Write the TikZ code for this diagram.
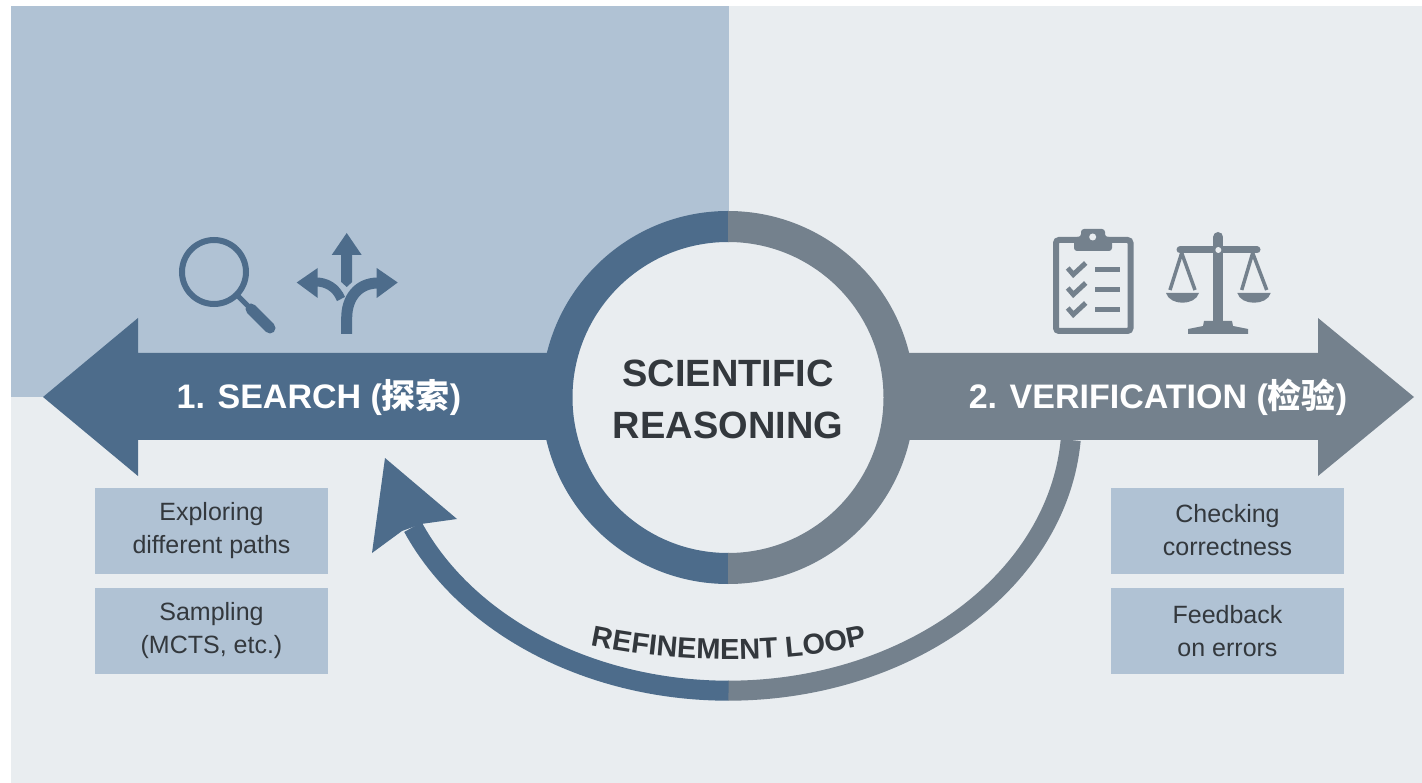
\documentclass[tikz,border=0pt]{standalone}
\usepackage{fontspec}
\setmainfont{Liberation Sans}
\newfontfamily\cjk{Noto Sans CJK SC}
\usetikzlibrary{decorations.text}
\definecolor{paper}{HTML}{E9EDF0}
\definecolor{pale}{HTML}{B0C2D4}
\definecolor{sblue}{HTML}{4D6C8B}
\definecolor{sgrey}{HTML}{74818D}
\definecolor{ink}{HTML}{33383D}
\tikzset{
  x=1pt,y=-1pt,
  notebox/.style={fill=pale,draw=none,minimum width=233pt,minimum height=86pt,inner sep=0pt,align=center,text=ink,font=\fontsize{25}{33}\selectfont},
  bartext/.style={text=white,inner sep=0pt,font=\bfseries\fontsize{34}{40}\selectfont},
  blueicon/.style={draw=sblue,line width=6pt},
  greyicon/.style={draw=sgrey,line width=5pt}
}
\begin{document}
\begin{tikzpicture}
\path[use as bounding box,fill=white] (0,0) rectangle (1422,783);
\fill[paper] (11,6) rectangle (1422,783);
\fill[pale] (11,6) rectangle (729,397);
% main arrows
\fill[sblue] (43,397) -- (138,318) -- (138,353) -- (729,353) -- (729,440) -- (138,440) -- (138,476) -- cycle;
\fill[sgrey] (1414,397) -- (1318,318) -- (1318,353) -- (728,353) -- (728,440) -- (1318,440) -- (1318,476) -- cycle;
% ring
\coordinate (hub) at (728,397.5);
\fill[paper] (hub) circle[radius=160pt];
\begin{scope}
\clip (0,0) rectangle (728.5,783);
\draw[sblue,line width=31pt] (hub) circle[radius=171pt];
\end{scope}
\begin{scope}
\clip (728,0) rectangle (1422,783);
\draw[sgrey,line width=31pt] (hub) circle[radius=171pt];
\end{scope}
% loop
\coordinate (loopstart) at (1070.7,440);
\coordinate (loopmid) at (728,690.7);
\coordinate (tip) at (385,458);
\coordinate (barbA) at (457,519);
\coordinate (notchA) at (421,524);
\coordinate (notchB) at (402,531);
\coordinate (barbB) at (372,553);
\draw[sgrey,line width=20pt] (loopstart) arc[start angle=-4.24,end angle=-90,x radius=343.6pt,y radius=270.7pt];
\draw[sblue,line width=20pt] (loopmid) ++(0.5,0) arc[start angle=270,end angle=203.3,x radius=343.6pt,y radius=270.7pt];
\fill[sblue] (tip) -- (barbA) -- (notchA) -- (notchB) -- (barbB) -- cycle;
% labels
\node[bartext] (search) at (319,397) {1. SEARCH ({\cjk\bfseries 探索})};
\node[bartext] (verify) at (1158,397) {2. VERIFICATION ({\cjk\bfseries 检验})};
\node[text=ink,align=center,inner sep=0pt,font=\bfseries\fontsize{38}{52}\selectfont] (title) at (728,399) {SCIENTIFIC\\REASONING};
\path[decorate,decoration={text along path,text align=center,text={|\bfseries\fontsize{29}{30}\selectfont\color{ink}|REFINEMENT LOOP}}]
  (590,645) .. controls (680,664) and (780,664) .. (868,645);
% boxes
\node[notebox] (b1) at (211.5,530.5) {Exploring\\different paths};
\node[notebox] (b2) at (211.5,631) {Sampling\\(MCTS, etc.)};
\node[notebox] (b3) at (1227.5,530.5) {Checking\\correctness};
\node[notebox] (b4) at (1227.5,631) {Feedback\\on errors};
% magnifier
\draw[blueicon] (214,272) circle[radius=32pt];
\draw[sblue,line width=5pt] (238,296) -- (250,308);
\draw[sblue,line width=11pt,line cap=round] (251,309) -- (270,328);
% branch arrows
\fill[sblue] (346.7,233) -- (361.7,255) -- (352.2,255) -- (352.2,282) -- (346.7,287) -- (341.2,282) -- (341.2,255) -- (331.7,255) -- cycle;
\draw[sblue,line width=11pt] (346.7,334) -- (346.7,318) .. controls (346.7,298) and (358,283) .. (378,283);
\fill[sblue] (397.7,282.5) -- (376.7,268) -- (376.7,298) -- cycle;
\draw[sblue,line width=9pt] (316,282) .. controls (326,282) and (336,287) .. (341,299);
\fill[sblue] (296.7,282.5) -- (317.7,268) -- (317.7,298) -- cycle;
% clipboard
\draw[greyicon,line width=6pt,rounded corners=3pt] (1056,240) rectangle (1130.5,331);
\fill[sgrey,rounded corners=3pt] (1074,237) -- (1081,237) -- (1081,229) -- (1105,229) -- (1105,237) -- (1112,237) -- (1112,251) -- (1074,251) -- cycle;
\fill[paper] (1092.7,237) circle[radius=3.5pt];
\foreach \yy in {0,20,40}{
  \draw[greyicon,line cap=butt] (1067.7,268+\yy) -- (1073.3,274.5+\yy) -- (1085.7,263+\yy);
  \draw[greyicon] (1095,270+\yy) -- (1119.5,270+\yy);
}
% scales
\draw[sgrey,line width=10pt,line cap=round] (1218.3,237) -- (1218.3,325);
\draw[sgrey,line width=7pt,line cap=round] (1180,250) -- (1257,250);
\fill[paper] (1218.3,250) circle[radius=3pt];
\draw[sgrey,line width=3.5pt] (1170,290) -- (1181.7,253) -- (1195,290);
\draw[sgrey,line width=3.5pt] (1241.7,290) -- (1252.7,253) -- (1266.7,290);
\fill[sgrey] (1166,293) .. controls (1170,306) and (1195,306) .. (1199,293) -- cycle;
\fill[sgrey] (1237.3,293) .. controls (1241,306) and (1267,306) .. (1270.7,293) -- cycle;
\fill[sgrey] (1188,334) -- (1188,329) -- (1203,326) -- (1204,321) -- (1232,321) -- (1233,326) -- (1248,329) -- (1248,334) -- cycle;
\end{tikzpicture}
\end{document}
